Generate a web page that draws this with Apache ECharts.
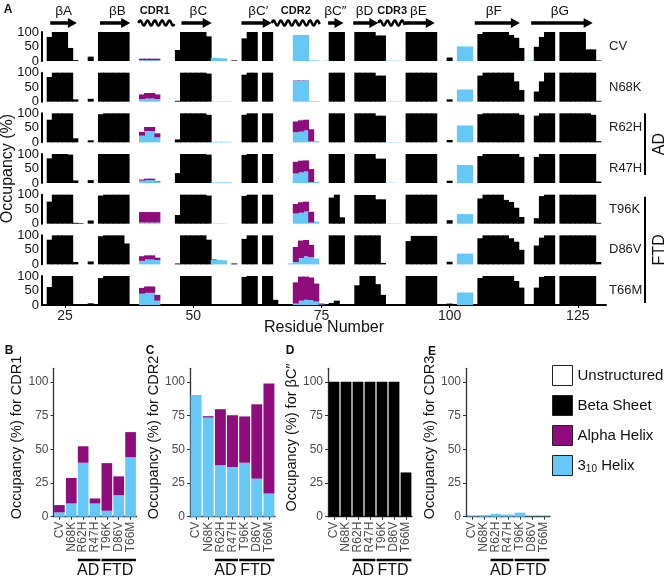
<!DOCTYPE html>
<html>
<head>
<meta charset="utf-8">
<script src="https://cdn.jsdelivr.net/npm/echarts@6/dist/echarts.min.js"></script>
<style>
  html, body { margin: 0; padding: 0; background: #fff; }
  #chart { width: 669px; height: 579px; }
</style>
</head>
<body>
<div id="chart"></div>
<script>
// residues 21..130 on the x axis of panel A
var residues = [];
for (var r = 21; r <= 130; r++) residues.push(r);
var variants = ['CV', 'N68K', 'R62H', 'R47H', 'T96K', 'D86V', 'T66M'];

// beta sheet occupancy (%), one value per residue 21..130
var betaCV = [
  0, 83, 100, 100, 100, 45, 3, 0, 0, 15,
  0, 100, 100, 100, 100, 100, 100, 0, 0, 0,
  0, 0, 0, 0, 0, 0, 38, 100, 100, 100,
  100, 100, 85, 0, 0, 0, 0, 2, 0, 78,
  100, 100, 0, 100, 100, 0, 0, 0, 0, 0,
  0, 0, 0, 0, 0, 0, 100, 100, 100, 0,
  0, 100, 100, 100, 100, 88, 88, 0, 0, 0,
  0, 100, 100, 100, 100, 100, 100, 0, 0, 12,
  0, 0, 0, 0, 0, 93, 100, 100, 100, 100,
  100, 90, 80, 45, 0, 0, 49, 83, 100, 100,
  0, 100, 100, 100, 100, 100, 40, 40, 2, 0];
var betaN68K = [
  0, 85, 100, 100, 100, 100, 8, 0, 0, 10,
  0, 100, 100, 100, 100, 100, 100, 0, 0, 0,
  0, 0, 0, 0, 0, 0, 3, 100, 100, 100,
  100, 100, 97, 0, 0, 0, 0, 0, 0, 93,
  100, 100, 0, 100, 100, 0, 0, 0, 0, 0,
  0, 0, 0, 0, 0, 0, 100, 100, 100, 0,
  0, 100, 100, 100, 100, 90, 90, 0, 0, 0,
  0, 100, 100, 100, 100, 100, 100, 0, 0, 8,
  0, 0, 0, 0, 0, 90, 100, 100, 100, 100,
  100, 100, 70, 40, 0, 0, 35, 70, 100, 100,
  0, 100, 100, 100, 100, 100, 100, 100, 3, 0];
var betaR62H = [
  0, 78, 100, 100, 100, 100, 14, 0, 0, 7,
  0, 97, 100, 100, 100, 100, 100, 0, 0, 0,
  0, 0, 0, 0, 0, 0, 10, 100, 100, 100,
  100, 100, 95, 0, 0, 0, 0, 0, 0, 95,
  100, 100, 0, 100, 100, 0, 0, 0, 0, 0,
  0, 0, 0, 0, 0, 0, 100, 100, 100, 0,
  0, 100, 100, 100, 100, 92, 92, 0, 0, 0,
  0, 100, 100, 100, 100, 100, 100, 0, 0, 8,
  0, 0, 0, 0, 0, 97, 100, 100, 100, 100,
  100, 100, 100, 95, 0, 0, 92, 100, 100, 100,
  0, 100, 100, 100, 100, 100, 100, 95, 4, 0];
var betaR47H = [
  0, 85, 100, 100, 100, 98, 9, 0, 0, 10,
  0, 100, 100, 100, 100, 100, 100, 0, 0, 0,
  0, 0, 0, 0, 0, 0, 34, 100, 100, 100,
  100, 100, 98, 0, 0, 0, 0, 0, 0, 97,
  100, 100, 0, 100, 100, 0, 0, 0, 0, 0,
  0, 0, 0, 0, 0, 0, 100, 100, 100, 0,
  0, 100, 100, 100, 100, 84, 84, 0, 0, 0,
  0, 100, 100, 100, 100, 100, 100, 0, 0, 8,
  0, 0, 0, 0, 0, 93, 100, 100, 100, 100,
  100, 100, 100, 90, 0, 0, 90, 100, 100, 100,
  0, 100, 100, 100, 100, 100, 100, 100, 5, 0];
var betaT96K = [
  0, 76, 100, 100, 100, 100, 3, 2, 0, 11,
  0, 97, 100, 100, 100, 100, 100, 0, 0, 0,
  0, 0, 0, 0, 0, 0, 30, 100, 100, 100,
  100, 100, 97, 0, 0, 0, 0, 0, 0, 96,
  100, 100, 0, 100, 100, 0, 0, 0, 0, 0,
  0, 0, 0, 0, 0, 0, 90, 100, 22, 0,
  0, 99, 99, 99, 99, 84, 84, 0, 0, 0,
  0, 100, 100, 100, 100, 100, 100, 0, 0, 12,
  0, 0, 0, 0, 0, 87, 100, 100, 100, 100,
  82, 75, 55, 23, 0, 0, 19, 95, 100, 100,
  0, 100, 100, 100, 100, 100, 100, 100, 3, 0];
var betaD86V = [
  0, 85, 100, 100, 100, 100, 8, 0, 0, 10,
  0, 97, 100, 100, 100, 100, 72, 0, 0, 0,
  0, 0, 0, 0, 0, 0, 3, 100, 100, 100,
  100, 100, 85, 0, 0, 0, 0, 3, 0, 88,
  100, 100, 0, 100, 100, 0, 0, 0, 0, 0,
  0, 0, 0, 0, 0, 0, 100, 100, 100, 0,
  0, 100, 100, 100, 100, 100, 5, 0, 0, 0,
  0, 80, 98, 98, 98, 98, 98, 0, 0, 9,
  0, 0, 0, 0, 0, 90, 100, 100, 100, 100,
  100, 90, 78, 50, 0, 0, 65, 92, 100, 100,
  0, 100, 100, 100, 100, 100, 100, 100, 8, 0];
var betaT66M = [
  0, 62, 100, 100, 100, 100, 0, 0, 0, 6,
  0, 93, 100, 100, 100, 100, 100, 0, 0, 0,
  0, 0, 0, 0, 0, 0, 3, 100, 100, 100,
  100, 100, 100, 0, 0, 0, 0, 0, 0, 97,
  100, 100, 0, 100, 100, 18, 0, 0, 0, 0,
  0, 0, 0, 0, 0, 0, 7, 15, 0, 0,
  0, 68, 100, 100, 100, 72, 35, 0, 0, 0,
  0, 100, 100, 100, 100, 100, 100, 0, 0, 5,
  0, 0, 0, 0, 0, 93, 100, 100, 100, 100,
  100, 100, 83, 60, 0, 0, 60, 97, 100, 100,
  0, 100, 100, 100, 100, 100, 100, 100, 3, 0];

// 3-10 helix occupancy, [residue, %]
var h310CV = [[40, 3], [41, 3], [42, 3], [43, 3], [54, 11], [55, 10], [56, 9], [70, 90], [71, 90], [72, 90], [73, 2], [74, 2], [76, 1], [88, 1], [89, 1], [90, 1], [98, 1], [102, 50], [103, 50], [104, 50], [115, 1], [116, 1]];
var h310N68K = [[40, 9], [41, 11], [42, 11], [43, 9], [54, 1], [55, 1], [56, 1], [57, 1], [70, 73], [71, 73], [72, 73], [73, 2], [74, 2], [88, 1], [89, 1], [90, 1], [102, 42], [103, 42], [104, 42]];
var h310R62H = [[40, 23], [41, 39], [42, 39], [43, 17], [54, 2], [55, 2], [56, 2], [57, 2], [70, 35], [71, 37], [72, 41], [73, 3], [74, 4], [88, 1], [89, 1], [90, 1], [102, 58], [103, 58], [104, 58]];
var h310R47H = [[40, 8], [41, 10], [42, 10], [43, 5], [54, 2], [55, 2], [56, 2], [57, 2], [70, 33], [71, 37], [72, 40], [73, 3], [74, 4], [88, 1], [89, 1], [102, 62], [103, 62], [104, 62]];
var h310T96K = [[40, 4], [41, 4], [42, 4], [43, 4], [54, 1], [55, 1], [56, 1], [70, 35], [71, 38], [72, 42], [73, 4], [74, 7], [88, 1], [89, 1], [90, 1], [102, 33], [103, 33], [104, 33]];
var h310D86V = [[40, 12], [41, 17], [42, 17], [43, 15], [54, 16], [55, 15], [56, 14], [69, 3], [70, 8], [71, 22], [72, 28], [73, 25], [74, 20], [102, 37], [103, 37], [104, 37]];
var h310T66M = [[40, 39], [41, 42], [42, 42], [43, 15], [70, 5], [71, 15], [72, 18], [73, 17], [74, 12], [75, 2], [102, 43], [103, 43], [104, 43]];

// alpha helix occupancy, [residue, %]
var alphaCV = [[40, 5], [41, 5], [42, 5], [43, 5]];
var alphaN68K = [[40, 16], [41, 19], [42, 19], [43, 16], [70, 1], [71, 1], [72, 1]];
var alphaR62H = [[40, 13], [41, 14], [42, 14], [43, 14], [70, 37], [71, 39], [72, 37], [73, 42]];
var alphaR47H = [[40, 4], [41, 5], [42, 5], [43, 2], [70, 40], [71, 40], [72, 38], [73, 45]];
var alphaT96K = [[40, 36], [41, 36], [42, 36], [43, 36], [70, 33], [71, 36], [72, 34], [73, 37]];
var alphaD86V = [[40, 16], [41, 14], [42, 14], [43, 8], [54, 2], [70, 52], [71, 60], [72, 56], [73, 42]];
var alphaT66M = [[40, 20], [41, 22], [42, 22], [43, 20], [70, 73], [71, 83], [72, 80], [73, 78], [74, 62], [75, 3]];

// secondary structure map above panel A (residue positions)
var featureNames = ['βA', 'βB', 'CDR1', 'βC', 'βC′', 'CDR2', 'βC″', 'βD', 'CDR3', 'βE', 'βF', 'βG'];
var featureKinds = ['strand', 'strand', 'loop', 'strand', 'strand', 'loop', 'strand', 'strand', 'loop', 'strand', 'strand', 'strand'];
var featureStart = [22.1, 31.8, 39.3, 47.7, 59.4, 65.3, 76.3, 81.2, 86.1, 91.3, 104.9, 115.9];
var featureEnd = [27.3, 37.7, 46.4, 53.6, 65.3, 74.7, 79.3, 86.1, 91.3, 97.1, 113.7, 127.9];
var featureLabelAt = [24.7, 35.2, 42.5, 51, 62.7, 70, 77.7, 83.4, 88.8, 93.9, 108.6, 121.5];

// summary panels B-E (values per variant)
var cdr1Helix310 = [3.2, 9.8, 40, 9.8, 4.4, 15.9, 44.1];
var cdr1Alpha = [5.4, 18.9, 12.2, 3.7, 35.3, 14, 18.6];
var cdr2Helix310 = [90.2, 73.5, 38.2, 36.8, 40, 28.2, 17.2];
var cdr2Alpha = [0, 1, 41.5, 38.4, 34.3, 55.1, 81.6];
var bcBeta = [100, 100, 100, 100, 100, 100, 32.8];
var cdr3Helix310 = [0.4, 1.2, 2.1, 1.6, 3, 0.2, 0.2];

var rowBeta = [betaCV, betaN68K, betaR62H, betaR47H, betaT96K, betaD86V, betaT66M];
var rowH310 = [h310CV, h310N68K, h310R62H, h310R47H, h310T96K, h310D86V, h310T66M];
var rowAlpha = [alphaCV, alphaN68K, alphaR62H, alphaR47H, alphaT96K, alphaD86V, alphaT66M];

var FONT = '"Liberation Sans", Arial, sans-serif';
var colBeta = '#000000', colAlpha = '#8E0C7B', col310 = '#66C8F6';

function noZeros(arr) {
  return arr.map(function (v) { return v === 0 ? '-' : v; });
}
function fillResidues(pairs) {
  var out = residues.map(function () { return '-'; });
  pairs.forEach(function (p) { out[p[0] - 21] = p[1]; });
  return out;
}
function rowTop(i) { return 32 + i * 40.67; }

var chart = echarts.init(document.getElementById('chart'));
var grids = [], xAxes = [], yAxes = [], series = [];

// panel A: one grid per variant
variants.forEach(function (v, i) {
  var last = i === variants.length - 1;
  grids.push({ left: 42, width: 564, top: rowTop(i), height: 29, outerBoundsMode: 'none' });
  xAxes.push({
    type: 'category', gridIndex: i, data: residues, show: last,
    axisLine: { show: true, lineStyle: { color: '#000', width: 2 } },
    axisTick: { show: true, alignWithLabel: true, length: 3, lineStyle: { color: '#000' },
      interval: function (idx, val) { return val % 25 === 0; } },
    axisLabel: { interval: function (idx, val) { return val % 25 === 0; }, fontSize: 14, color: '#222', margin: 4 },
    name: last ? 'Residue Number' : '', nameLocation: 'middle', nameGap: 15, nameMoveOverlap: false,
    nameTextStyle: { fontSize: 16, color: '#111' }
  });
  yAxes.push({
    type: 'value', gridIndex: i, min: 0, max: 100, interval: 50,
    axisLine: { show: true, lineStyle: { color: '#000', width: 2 } },
    axisTick: { show: false }, splitLine: { show: false },
    axisLabel: { fontSize: 13, color: '#111', margin: 3 },
    name: i === 3 ? 'Occupancy (%)' : '', nameLocation: 'middle', nameGap: 26, nameMoveOverlap: false,
    nameTextStyle: { fontSize: 16, color: '#111' }
  });
  // bars a little wider than the 5.1 px band so neighbouring residues join without seams
  var common = { type: 'bar', xAxisIndex: i, yAxisIndex: i, stack: 'row' + i, barWidth: 6 };
  series.push(Object.assign({}, common, { name: 'Beta Sheet', data: noZeros(rowBeta[i]), itemStyle: { color: colBeta } }));
  series.push(Object.assign({}, common, { name: '3_10 Helix', data: fillResidues(rowH310[i]), itemStyle: { color: col310 } }));
  series.push(Object.assign({}, common, { name: 'Alpha Helix', data: fillResidues(rowAlpha[i]), itemStyle: { color: colAlpha } }));
});

// header grid (index 7) for the strand / loop map
grids.push({ left: 42, width: 564, top: 0, height: 30, outerBoundsMode: 'none' });
xAxes.push({ type: 'value', gridIndex: 7, min: 20.5, max: 130.5, show: false });
yAxes.push({ type: 'value', gridIndex: 7, min: 0, max: 1, show: false });

function drawFeature(params, api) {
  var i = params.dataIndex;
  var x0 = api.coord([api.value(0), 0])[0];
  var x1 = api.coord([api.value(1), 0])[0];
  var xl = api.coord([api.value(2), 0])[0];
  var yMark = 23;
  var loop = featureKinds[i] === 'loop';
  var kids = [{
    type: 'text', x: xl, y: 11,
    style: { text: featureNames[i], align: 'center', verticalAlign: 'middle',
      fontSize: loop ? 11 : 13.5, fontWeight: loop ? 'bold' : 'normal', fontFamily: FONT, fill: '#111' }
  }];
  if (!loop) {
    kids.push({ type: 'line', shape: { x1: x0, y1: yMark, x2: x1 - 6, y2: yMark }, style: { stroke: '#000', lineWidth: 3.5 } });
    kids.push({ type: 'polygon', shape: { points: [[x1 - 9, yMark - 5], [x1, yMark], [x1 - 9, yMark + 5]] }, style: { fill: '#000' } });
  } else {
    var pts = [];
    for (var x = x0; x <= x1; x += 0.5) pts.push([x, yMark - 2.5 * Math.sin((x - x0) / 7.3 * 2 * Math.PI)]);
    kids.push({ type: 'polyline', shape: { points: pts }, style: { stroke: '#000', lineWidth: 2.5, fill: null } });
  }
  return { type: 'group', children: kids };
}
series.push({
  type: 'custom', xAxisIndex: 7, yAxisIndex: 7, clip: false, silent: true,
  encode: { x: [0, 1, 2], y: 3 },
  data: featureStart.map(function (s, i) { return [s, featureEnd[i], featureLabelAt[i], 0.5]; }),
  renderItem: drawFeature
});

// panels B-E (grids 8..11)
var panelLeft = [53.5, 190, 328, 466];
var panelWidth = [83, 85, 84, 84];
var panelTitle = ['Occupancy (%) for CDR1', 'Occupancy (%) for CDR2', 'Occupancy (%) for βC″', 'Occupancy (%) for CDR3'];
panelLeft.forEach(function (left, k) {
  var gi = 8 + k;
  grids.push({ left: left, width: panelWidth[k], top: 368.3, height: 148.4, outerBoundsMode: 'none' });
  xAxes.push({
    type: 'category', gridIndex: gi, data: variants,
    axisLine: { lineStyle: { color: '#333', width: 1.3 } },
    axisTick: { show: true, alignWithLabel: true, length: 3, lineStyle: { color: '#333' } },
    axisLabel: { rotate: 90, interval: 0, fontSize: 12, color: '#4d4d4d', margin: 5 }
  });
  yAxes.push({
    type: 'value', gridIndex: gi, min: 0, max: 110, interval: 25,
    axisLine: { show: true, lineStyle: { color: '#333', width: 1.3 } },
    axisTick: { show: true, length: 3, lineStyle: { color: '#333' }, customValues: [0, 25, 50, 75, 100] },
    axisLabel: { fontSize: 12, color: '#4d4d4d', margin: 5, customValues: [0, 25, 50, 75, 100],
      formatter: function (v) { return v > 100 ? '' : v; } },
    splitLine: { show: false },
    name: panelTitle[k], nameLocation: 'middle', nameGap: 29, nameMoveOverlap: false,
    nameTextStyle: { fontSize: 14.5, color: '#111', padding: [0, 0, 0, 10] }
  });
});
function panelBar(gi, name, data, color) {
  return { type: 'bar', name: name, xAxisIndex: gi, yAxisIndex: gi, stack: 'p' + gi,
    barCategoryGap: '10%', data: data, itemStyle: { color: color } };
}
series.push(panelBar(8, '3_10 Helix', cdr1Helix310, col310));
series.push(panelBar(8, 'Alpha Helix', cdr1Alpha, colAlpha));
series.push(panelBar(8, 'Unstructured', [], '#ffffff'));
series.push(panelBar(9, '3_10 Helix', cdr2Helix310, col310));
series.push(panelBar(9, 'Alpha Helix', cdr2Alpha, colAlpha));
series.push(panelBar(10, 'Beta Sheet', bcBeta, colBeta));
series.push(panelBar(11, '3_10 Helix', cdr3Helix310, col310));

chart.setOption({
  animation: false,
  textStyle: { fontFamily: FONT },
  grid: grids, xAxis: xAxes, yAxis: yAxes, series: series,
  legend: {
    orient: 'vertical', left: 552, top: 365, padding: 0, itemWidth: 20, itemHeight: 20, itemGap: 9,
    selectedMode: false, icon: 'rect',
    itemStyle: { borderColor: '#222', borderWidth: 1 },
    data: [{ name: 'Unstructured', itemStyle: { color: '#fff' } }, 'Beta Sheet', 'Alpha Helix', '3_10 Helix'],
    formatter: function (name) {
      return name === '3_10 Helix' ? '{t|3}{s|10}{t| Helix}' : '{t|' + name + '}';
    },
    textStyle: { fontSize: 15, color: '#111',
      rich: { t: { fontSize: 15, color: '#111', lineHeight: 18 },
              s: { fontSize: 10, color: '#111', lineHeight: 10, verticalAlign: 'bottom' } } }
  }
});

// text annotations placed from the axes
var g = [];
function label(text, x, y, size, weight, extra) {
  return Object.assign({ type: 'text', x: x, y: y, silent: true,
    style: { text: text, fontSize: size, fontWeight: weight || 'normal', fontFamily: FONT, fill: '#111',
      align: 'center', verticalAlign: 'middle' } }, extra || {});
}
g.push(label('A', 8, 10, 12, 'bold'));
g.push(label('B', 9, 351, 12, 'bold'));
g.push(label('C', 150, 351, 12, 'bold'));
g.push(label('D', 290, 351, 12, 'bold'));
g.push(label('E', 432, 352, 12, 'bold'));
variants.forEach(function (v, i) {
  var y = chart.convertToPixel({ yAxisIndex: i }, 50);
  var t = label(v, 609, y, 13);
  t.style.align = 'left';
  t.style.fill = '#222';
  g.push(t);
});
g.push({ type: 'line', silent: true, shape: { x1: 645, y1: rowTop(2), x2: 645, y2: rowTop(3) + 21 }, style: { stroke: '#000', lineWidth: 2 } });
g.push({ type: 'line', silent: true, shape: { x1: 645, y1: rowTop(4) + 2, x2: 645, y2: rowTop(6) + 27 }, style: { stroke: '#000', lineWidth: 2 } });
g.push(label('AD', 660, (rowTop(2) + rowTop(3) + 21) / 2, 16, 'normal', { rotation: Math.PI / 2 }));
g.push(label('FTD', 660, (rowTop(4) + rowTop(6) + 29) / 2, 16, 'normal', { rotation: Math.PI / 2 }));

panelLeft.forEach(function (left, k) {
  var gi = 8 + k;
  var half = panelWidth[k] / variants.length * 0.45;
  var px = function (name) { return chart.convertToPixel({ xAxisIndex: gi }, name); };
  var a0 = px('R62H') - half, a1 = px('R47H') + half;
  var f0 = px('T96K') - half, f1 = px('T66M') + half;
  g.push({ type: 'line', silent: true, shape: { x1: a0, y1: 560, x2: a1, y2: 560 }, style: { stroke: '#000', lineWidth: 2.5 } });
  g.push({ type: 'line', silent: true, shape: { x1: f0, y1: 560, x2: f1, y2: 560 }, style: { stroke: '#000', lineWidth: 2.5 } });
  g.push(label('AD', (a0 + a1) / 2 - 1, 571, 16));
  g.push(label('FTD', (f0 + f1) / 2 - 1, 571, 16));
});
chart.setOption({ graphic: g });
</script>
</body>
</html>
